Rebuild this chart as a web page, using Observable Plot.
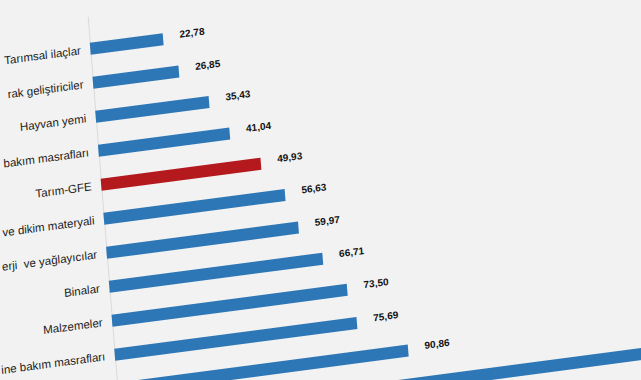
<!DOCTYPE html>
<html><head><meta charset="utf-8">
<script src="https://cdn.jsdelivr.net/npm/d3@7"></script>
<script src="https://cdn.jsdelivr.net/npm/@observablehq/plot@0.6"></script>
<style>
html,body{margin:0;padding:0;background:#f2f2f2;width:641px;height:380px;overflow:hidden;}
#chart{position:absolute;left:0;top:0;width:840px;height:457px;transform-origin:0 0;transform:matrix(1,-0.132,0.08,1,-113.1,33.25);}
#chart svg{max-width:none !important;width:840px;height:457px;}
</style></head><body><div id="chart"></div>
<script>
const categories = [
  "Tarımsal ilaçlar",
  "rak geliştiriciler",
  "Hayvan yemi",
  "bakım masrafları",
  "Tarım-GFE",
  "ve dikim materyali",
  "erji  ve yağlayıcılar",
  "Binalar",
  "Malzemeler",
  "ine bakım masrafları",
  "Veteriner harcamaları",
  "Diğer mal ve hizmetler"
];
const values = [22.78, 26.85, 35.43, 41.04, 49.93, 56.63, 59.97, 66.71, 73.50, 75.69, 90.86, 170];
const visibleLabels = categories.slice(0, 10);
const visibleValues = categories.slice(0, 11);
const highlight = "Tarım-GFE";
const data = categories.map((c, i) => ({category: c, value: values[i]}));
const fmt = v => v.toFixed(2).replace(".", ",");
const chart = Plot.plot({
  width: 840, height: 457,
  marginLeft: 200, marginRight: 0, marginTop: 10, marginBottom: 10,
  style: {background: "transparent", fontFamily: "'Liberation Sans', Arial, sans-serif", overflow: "visible"},
  x: {domain: [0, 200], axis: null},
  y: {domain: categories, padding: 0.66, label: null},
  marks: [
    Plot.ruleX([0], {stroke: "#dadada"}),
    Plot.barX(data.filter(d => d.category !== highlight), {x: "value", y: "category", fill: "#2e77b7"}),
    Plot.barX(data.filter(d => d.category === highlight), {x: "value", y: "category", fill: "#b3191d"}),
    Plot.text(data.filter(d => visibleValues.includes(d.category)), {x: "value", y: "category", text: d => fmt(d.value), textAnchor: "start", dx: 16, dy: -3, fontWeight: "bold", fontSize: 10, fill: "#111"}),
    Plot.axisY(visibleLabels, {tickSize: 0, tickPadding: 10, fontSize: 11.5, label: null, color: "#222"})
  ]
});
document.getElementById("chart").appendChild(chart);
</script></body></html>
